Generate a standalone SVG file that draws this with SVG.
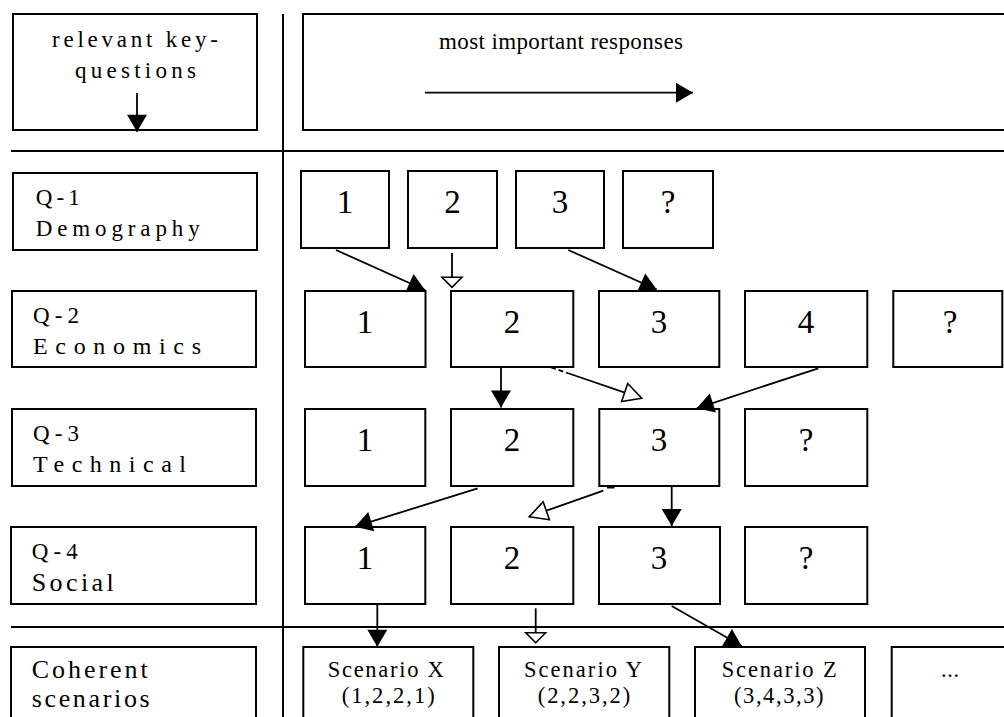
<svg xmlns="http://www.w3.org/2000/svg" width="1004" height="717" viewBox="0 0 1004 717">
  <style>
    .box { fill: #fff; stroke: #000; stroke-width: 2; }
    .grid { stroke: #000; stroke-width: 2; fill: none; }
    .lbl { font-family: "Liberation Serif", "Times New Roman", serif; font-size: 23px; fill: #000; }
    .lbl-md { font-family: "Liberation Serif", "Times New Roman", serif; font-size: 24px; fill: #000; }
    .lbl-lg { font-family: "Liberation Serif", "Times New Roman", serif; font-size: 26px; fill: #000; }
    .num { font-family: "Liberation Serif", "Times New Roman", serif; font-size: 33px; fill: #000; text-anchor: middle; }
    .scn { font-family: "Liberation Serif", "Times New Roman", serif; font-size: 22.5px; fill: #000; }
    .link { stroke: #000; stroke-width: 1.8; fill: none; }
    .solid { marker-end: url(#head-solid); }
    .hollow { marker-end: url(#head-hollow); }
    .hollow-sm { marker-end: url(#head-hollow-sm); }
  </style>
  <defs>
    <marker id="head-solid" viewBox="0 0 17 20" refX="17" refY="10" markerWidth="17" markerHeight="20" markerUnits="userSpaceOnUse" orient="auto" overflow="visible">
      <path d="M0,0 L17,10 L0,20 Z" fill="#000"/>
    </marker>
    <marker id="head-hollow" viewBox="0 0 18 19" refX="18" refY="9.5" markerWidth="18" markerHeight="19" markerUnits="userSpaceOnUse" orient="auto" overflow="visible">
      <path d="M0,0 L18,9.5 L0,19 Z" fill="#fff" stroke="#000" stroke-width="1.6" stroke-linejoin="miter"/>
    </marker>
    <marker id="head-hollow-sm" viewBox="0 0 10 20" refX="10" refY="10" markerWidth="10" markerHeight="20" markerUnits="userSpaceOnUse" orient="auto" overflow="visible">
      <path d="M0,0 L10,10 L0,20 Z" fill="#fff" stroke="#000" stroke-width="1.6"/>
    </marker>
  </defs>

  <rect width="1004" height="717" fill="#fff"/>

  <!-- table rules -->
  <g id="rules">
    <line class="grid" x1="283" y1="14" x2="283" y2="717"/>
    <line class="grid" x1="11" y1="151" x2="1004" y2="151"/>
    <line class="grid" x1="11" y1="627" x2="1004" y2="627"/>
  </g>

  <!-- header row -->
  <g id="hdr-questions">
    <rect class="box" x="13" y="14" width="244" height="116"/>
    <text class="lbl" x="52" y="47" textLength="166" lengthAdjust="spacing">relevant key-</text>
    <text class="lbl" x="75" y="78" textLength="121" lengthAdjust="spacing">questions</text>
  </g>
  <g id="hdr-responses">
    <rect class="box" x="303" y="14" width="720" height="116"/>
    <text class="lbl" x="439" y="49" textLength="244" lengthAdjust="spacing">most important responses</text>
  </g>

  <!-- key-question labels -->
  <g id="q1">
    <rect class="box" x="13" y="173" width="244" height="77"/>
    <text class="lbl" x="35.7" y="205" textLength="44" lengthAdjust="spacing">Q-1</text>
    <text class="lbl" x="35.7" y="236" textLength="164" lengthAdjust="spacing">Demography</text>
  </g>
  <g id="q2">
    <rect class="box" x="12" y="291" width="244" height="76"/>
    <text class="lbl" x="33" y="323" textLength="46" lengthAdjust="spacing">Q-2</text>
    <text class="lbl-md" x="33" y="354" textLength="168" lengthAdjust="spacing">Economics</text>
  </g>
  <g id="q3">
    <rect class="box" x="12" y="409" width="244" height="77"/>
    <text class="lbl" x="33" y="441" textLength="46" lengthAdjust="spacing">Q-3</text>
    <text class="lbl-md" x="33" y="472" textLength="153" lengthAdjust="spacing">Technical</text>
  </g>
  <g id="q4">
    <rect class="box" x="11" y="527" width="245" height="77"/>
    <text class="lbl" x="31.7" y="559" textLength="46" lengthAdjust="spacing">Q-4</text>
    <text class="lbl-lg" x="31.7" y="590.7" textLength="82" lengthAdjust="spacing">Social</text>
  </g>
  <g id="coherent">
    <rect class="box" x="11" y="647" width="245" height="90"/>
    <text class="lbl-lg" x="31.7" y="678.3" textLength="116" lengthAdjust="spacing">Coherent</text>
    <text class="lbl-lg" x="31.7" y="706.7" textLength="118" lengthAdjust="spacing">scenarios</text>
  </g>

  <!-- Q-1 responses -->
  <g id="r1-1"><rect class="box" x="301" y="171" width="88" height="77"/><text class="num" x="345" y="213">1</text></g>
  <g id="r1-2"><rect class="box" x="408" y="171" width="89" height="77"/><text class="num" x="452.5" y="213">2</text></g>
  <g id="r1-3"><rect class="box" x="516" y="171" width="88" height="77"/><text class="num" x="560" y="213">3</text></g>
  <g id="r1-q"><rect class="box" x="623" y="171" width="90" height="77"/><text class="num" x="668" y="213">?</text></g>

  <!-- Q-2 responses -->
  <g id="r2-1"><rect class="box" x="305" y="291" width="120.5" height="76"/><text class="num" x="365" y="333">1</text></g>
  <g id="r2-2"><rect class="box" x="451" y="291" width="122.3" height="76"/><text class="num" x="512" y="333">2</text></g>
  <g id="r2-3"><rect class="box" x="599" y="291" width="120.3" height="76"/><text class="num" x="659" y="333">3</text></g>
  <g id="r2-4"><rect class="box" x="745" y="291" width="122.3" height="76"/><text class="num" x="806" y="333">4</text></g>
  <g id="r2-q"><rect class="box" x="893.3" y="291" width="109" height="76"/><text class="num" x="950" y="333">?</text></g>

  <!-- Q-3 responses -->
  <g id="r3-1"><rect class="box" x="305" y="409" width="120.3" height="77"/><text class="num" x="365" y="451">1</text></g>
  <g id="r3-2"><rect class="box" x="451" y="409" width="122.3" height="77"/><text class="num" x="512" y="451">2</text></g>
  <g id="r3-3"><rect class="box" x="599.3" y="409" width="120" height="77"/><text class="num" x="659" y="451">3</text></g>
  <g id="r3-q"><rect class="box" x="745" y="409" width="122.3" height="77"/><text class="num" x="806" y="451">?</text></g>

  <!-- Q-4 responses -->
  <g id="r4-1"><rect class="box" x="305" y="527" width="120.3" height="77"/><text class="num" x="365" y="569">1</text></g>
  <g id="r4-2"><rect class="box" x="451" y="527" width="122.3" height="77"/><text class="num" x="512" y="569">2</text></g>
  <g id="r4-3"><rect class="box" x="599" y="527" width="121" height="77"/><text class="num" x="659" y="569">3</text></g>
  <g id="r4-q"><rect class="box" x="745" y="527" width="122.3" height="77"/><text class="num" x="806" y="569">?</text></g>

  <!-- scenarios -->
  <g id="scn-x">
    <rect class="box" x="303.3" y="647" width="170" height="90"/>
    <text class="scn" x="327.7" y="676.7" textLength="116" lengthAdjust="spacing">Scenario X</text>
    <text class="scn" x="341.7" y="703.3" textLength="93" lengthAdjust="spacing">(1,2,2,1)</text>
  </g>
  <g id="scn-y">
    <rect class="box" x="499" y="647" width="170.3" height="90"/>
    <text class="scn" x="524" y="676.7" textLength="118" lengthAdjust="spacing">Scenario Y</text>
    <text class="scn" x="537.7" y="703.3" textLength="92.5" lengthAdjust="spacing">(2,2,3,2)</text>
  </g>
  <g id="scn-z">
    <rect class="box" x="695" y="647" width="170" height="90"/>
    <text class="scn" x="721.7" y="676.7" textLength="115" lengthAdjust="spacing">Scenario Z</text>
    <text class="scn" x="734" y="703.3" textLength="89.5" lengthAdjust="spacing">(3,4,3,3)</text>
  </g>
  <g id="scn-more">
    <rect class="box" x="891.7" y="647" width="130" height="90"/>
    <text class="scn" x="941" y="676.7" textLength="18" lengthAdjust="spacing">...</text>
  </g>

  <!-- connectors -->
  <g id="connectors">
    <line class="link solid" x1="137" y1="93" x2="137" y2="131.7"/>
    <line class="link solid" x1="425" y1="92.7" x2="693" y2="92.7"/>

    <line class="link solid" x1="336" y1="250" x2="425" y2="290"/>
    <line class="link hollow-sm" x1="452" y1="253" x2="452" y2="287.3"/>
    <line class="link solid" x1="568.3" y1="250" x2="656.7" y2="289.5"/>

    <line class="link solid" x1="501" y1="367.3" x2="501" y2="407.5"/>
    <line class="link" x1="551" y1="367.3" x2="566" y2="372.5" stroke-dasharray="5 3"/>
    <line class="link hollow" x1="566" y1="372.5" x2="641.7" y2="398.3"/>
    <line class="link solid" x1="818.3" y1="368.3" x2="696.7" y2="408.3"/>

    <line class="link solid" x1="477.7" y1="488.3" x2="355" y2="526.7"/>
    <line class="link" x1="607" y1="487.6" x2="614.5" y2="487.6" stroke-width="2.4"/>
    <line class="link hollow" x1="603.3" y1="490.7" x2="529.3" y2="516.7"/>
    <line class="link solid" x1="671.7" y1="486" x2="671.7" y2="526"/>

    <line class="link solid" x1="377.3" y1="604" x2="377.3" y2="646.7"/>
    <line class="link hollow-sm" x1="535.7" y1="608.3" x2="535.7" y2="642.7"/>
    <line class="link solid" x1="671.7" y1="606" x2="741.7" y2="646"/>
  </g>
</svg>
